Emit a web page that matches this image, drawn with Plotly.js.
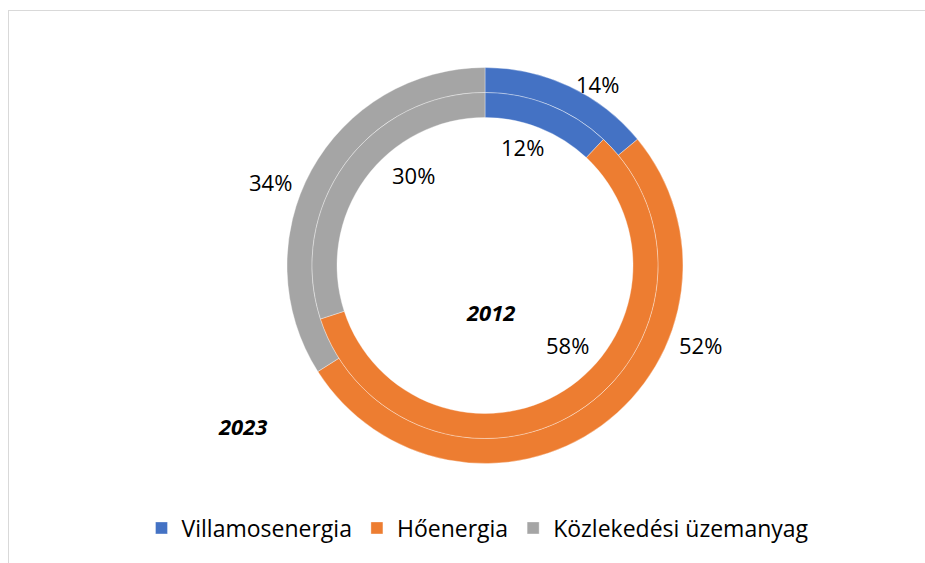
<!DOCTYPE html>
<html>
<head>
<meta charset="utf-8">
<script src="https://cdn.plot.ly/plotly-3.0.1.min.js"></script>
<style>
  html, body { margin: 0; padding: 0; background: #fff; }
  #wrap { position: absolute; left: 0; top: 0; width: 925px; height: 563px; }
  #frame { position: absolute; left: 8px; top: 10px; width: 917px; height: 553px;
           border-left: 1px solid #d9d9d9; border-top: 1px solid #d9d9d9; box-sizing: border-box; }
  #chart { position: absolute; left: 0; top: 0; width: 925px; height: 563px; }
</style>
</head>
<body>
<div id="wrap"><div id="frame"></div><div id="chart"></div></div>
<script>
// ---- data ----
const categories = ["Villamosenergia", "Hőenergia", "Közlekedési üzemanyag"];
const values2023 = [14, 52, 34];   // outer ring
const values2012 = [12, 58, 30];   // inner ring
const years = ["2023", "2012"];
const colors = ["#4472C4", "#ED7D31", "#A5A5A5"];

// ---- geometry (px) ----
const W = 925, H = 563;
const cx = 485, cy = 265.5;
const rOuter = 198, rMid = 173, rInner = 148;

function domainFor(r) {
  return {
    x: [(cx - r) / W, (cx + r) / W],
    y: [1 - (cy + r) / H, 1 - (cy - r) / H]
  };
}
function px2paper(x, y) { return { x: x / W, y: 1 - y / H }; }

// label offsets from centre (px) - styling only
const outerLabelOffsets = [[112, -182], [215, 79], [-215, -84]];
const innerLabelOffsets = [[37, -119], [82, 79], [-72, -91]];
const yearLabelPos = { "2023": [242, 426], "2012": [490, 312] };

const sliceLine = { color: "rgba(255,255,255,0.7)", width: 0.5 };
const traceOuter = {
  type: "pie", values: values2023, labels: categories, name: years[0],
  hole: rMid / rOuter, sort: false, direction: "clockwise", rotation: 0,
  marker: { colors: colors, line: sliceLine },
  textinfo: "none", hoverinfo: "label+percent",
  domain: domainFor(rOuter), showlegend: true
};
const traceInner = {
  type: "pie", values: values2012, labels: categories, name: years[1],
  hole: rInner / rMid, sort: false, direction: "clockwise", rotation: 0,
  marker: { colors: colors, line: sliceLine },
  textinfo: "none", hoverinfo: "label+percent",
  domain: domainFor(rMid), showlegend: false
};

const font = "Open Sans, 'Noto Sans', sans-serif";
const labelFont = { family: font, size: 22, color: "#000" };
const annotations = [];
values2023.forEach((v, i) => {
  const p = px2paper(cx + outerLabelOffsets[i][0], cy + outerLabelOffsets[i][1]);
  annotations.push({ xref: "paper", yref: "paper", x: p.x, y: p.y, text: v + "%",
    showarrow: false, xanchor: "center", yanchor: "middle", font: labelFont });
});
values2012.forEach((v, i) => {
  const p = px2paper(cx + innerLabelOffsets[i][0], cy + innerLabelOffsets[i][1]);
  annotations.push({ xref: "paper", yref: "paper", x: p.x, y: p.y, text: v + "%",
    showarrow: false, xanchor: "center", yanchor: "middle", font: labelFont });
});
years.forEach(yr => {
  const p = px2paper(yearLabelPos[yr][0], yearLabelPos[yr][1]);
  annotations.push({ xref: "paper", yref: "paper", x: p.x, y: p.y,
    text: "<b><i>" + yr + "</i></b>", showarrow: false,
    xanchor: "center", yanchor: "middle", font: labelFont });
});

const layout = {
  width: W, height: H,
  margin: { l: 0, r: 0, t: 0, b: 0, autoexpand: false },
  paper_bgcolor: "rgba(0,0,0,0)", plot_bgcolor: "rgba(0,0,0,0)",
  showlegend: true,
  legend: {
    orientation: "h", x: 478 / W, xanchor: "center", y: 1 - 528 / H, yanchor: "middle",
    font: { family: font, size: 23, color: "#000" },
    itemwidth: 30, bgcolor: "rgba(0,0,0,0)", traceorder: "normal"
  },
  annotations: annotations
};

Plotly.newPlot("chart", [traceOuter, traceInner], layout, { displayModeBar: false, staticPlot: true });
</script>
</body>
</html>
